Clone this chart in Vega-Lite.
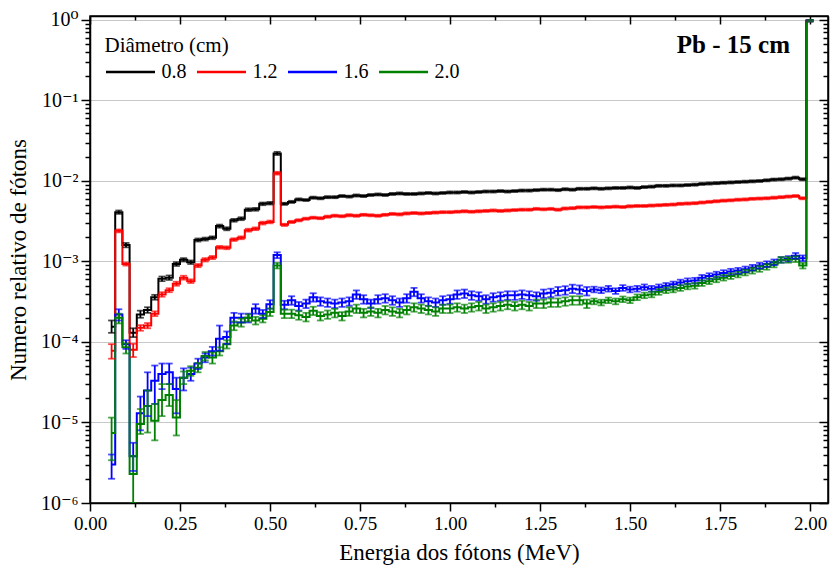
{
"$schema":"https://vega.github.io/schema/vega-lite/v6.json",
"width":738,"height":487,
"autosize":{"type":"none"},
"padding":{"left":90,"top":16,"right":4,"bottom":69},
"background":"white",
"config":{
"view":{"stroke":"black","strokeWidth":1.5},
"font":"Liberation Serif, Times New Roman, DejaVu Serif, serif",
"axis":{"domainColor":"black","domainWidth":1.5,"tickColor":"black","tickWidth":1.5,"labelColor":"black","titleColor":"black","labelFont":"Liberation Serif, Times New Roman, DejaVu Serif, serif","titleFont":"Liberation Serif, Times New Roman, DejaVu Serif, serif","titleFontWeight":"normal","gridColor":"#c8c8c8","gridWidth":1}
},
"title":{"text":"Pb - 15 cm","anchor":"end","frame":"group","orient":"top","offset":-36,"dx":-38,"dy":32,"baseline":"alphabetic","fontSize":25,"fontWeight":"bold","font":"Liberation Serif, Times New Roman, DejaVu Serif, serif","color":"black"},
"datasets":{"d":[
{"d":"0.8","e":0.06,"v":1.55e-4,"lo":1.3e-4,"hi":1.85e-4},
{"d":"0.8","e":0.08,"v":4.1e-3,"lo":3.9e-3,"hi":4.3e-3},
{"d":"0.8","e":0.10,"v":1.6e-3,"lo":1.5e-3,"hi":1.7e-3},
{"d":"0.8","e":0.12,"v":1.3e-4,"lo":1.15e-4,"hi":1.48e-4},
{"d":"0.8","e":0.14,"v":2.2e-4,"lo":2.0e-4,"hi":2.45e-4},
{"d":"0.8","e":0.16,"v":2.5e-4,"lo":2.3e-4,"hi":2.7e-4},
{"d":"0.8","e":0.18,"v":3.6e-4,"lo":3.35e-4,"hi":3.85e-4},
{"d":"0.8","e":0.20,"v":6.1e-4,"lo":5.7e-4,"hi":6.5e-4},
{"d":"0.8","e":0.22,"v":6.3e-4,"lo":5.9e-4,"hi":6.7e-4},
{"d":"0.8","e":0.24,"v":9.3e-4,"lo":8.8e-4,"hi":9.8e-4},
{"d":"0.8","e":0.26,"v":1.05e-3,"lo":1.0e-3,"hi":1.1e-3},
{"d":"0.8","e":0.28,"v":9.8e-4,"lo":9.3e-4,"hi":1.03e-3},
{"d":"0.8","e":0.30,"v":1.85e-3,"lo":1.77e-3,"hi":1.93e-3},
{"d":"0.8","e":0.32,"v":1.9e-3,"lo":1.82e-3,"hi":1.98e-3},
{"d":"0.8","e":0.34,"v":1.97e-3,"lo":1.89e-3,"hi":2.05e-3},
{"d":"0.8","e":0.36,"v":2.75e-3,"lo":2.63e-3,"hi":2.87e-3},
{"d":"0.8","e":0.38,"v":2.55e-3,"lo":2.44e-3,"hi":2.66e-3},
{"d":"0.8","e":0.40,"v":3.25e-3,"lo":3.12e-3,"hi":3.38e-3},
{"d":"0.8","e":0.42,"v":3.4e-3,"lo":3.26e-3,"hi":3.54e-3},
{"d":"0.8","e":0.44,"v":4.4e-3,"lo":4.22e-3,"hi":4.58e-3},
{"d":"0.8","e":0.46,"v":4.45e-3,"lo":4.27e-3,"hi":4.63e-3},
{"d":"0.8","e":0.48,"v":5.2e-3,"lo":5.0e-3,"hi":5.4e-3},
{"d":"0.8","e":0.50,"v":5.3e-3,"lo":5.1e-3,"hi":5.5e-3},
{"d":"0.8","e":0.52,"v":2.2e-2,"lo":2.1e-2,"hi":2.3e-2},
{"d":"0.8","e":0.54,"v":5.2e-3,"lo":5.04e-3,"hi":5.36e-3},
{"d":"0.8","e":0.56,"v":5.5e-3,"lo":5.33e-3,"hi":5.67e-3},
{"d":"0.8","e":0.58,"v":5.9e-3,"lo":5.72e-3,"hi":6.08e-3},
{"d":"0.8","e":0.60,"v":5.8e-3,"lo":5.63e-3,"hi":5.97e-3},
{"d":"0.8","e":0.62,"v":6.2e-3,"lo":6.01e-3,"hi":6.39e-3},
{"d":"0.8","e":0.64,"v":6.1e-3,"lo":5.92e-3,"hi":6.28e-3},
{"d":"0.8","e":0.66,"v":6.3e-3,"lo":6.11e-3,"hi":6.49e-3},
{"d":"0.8","e":0.68,"v":6.3e-3,"lo":6.11e-3,"hi":6.49e-3},
{"d":"0.8","e":0.70,"v":6.5e-3,"lo":6.31e-3,"hi":6.7e-3},
{"d":"0.8","e":0.72,"v":6.4e-3,"lo":6.21e-3,"hi":6.59e-3},
{"d":"0.8","e":0.74,"v":6.6e-3,"lo":6.4e-3,"hi":6.8e-3},
{"d":"0.8","e":0.76,"v":6.5e-3,"lo":6.31e-3,"hi":6.7e-3},
{"d":"0.8","e":0.78,"v":6.7e-3,"lo":6.5e-3,"hi":6.9e-3},
{"d":"0.8","e":0.80,"v":6.8e-3,"lo":6.6e-3,"hi":7.0e-3},
{"d":"0.8","e":0.82,"v":6.7e-3,"lo":6.5e-3,"hi":6.9e-3},
{"d":"0.8","e":0.84,"v":6.9e-3,"lo":6.69e-3,"hi":7.11e-3},
{"d":"0.8","e":0.86,"v":7.0e-3,"lo":6.79e-3,"hi":7.21e-3},
{"d":"0.8","e":0.88,"v":6.9e-3,"lo":6.69e-3,"hi":7.11e-3},
{"d":"0.8","e":0.90,"v":6.9e-3,"lo":6.69e-3,"hi":7.11e-3},
{"d":"0.8","e":0.92,"v":7.0e-3,"lo":6.79e-3,"hi":7.21e-3},
{"d":"0.8","e":0.94,"v":7.1e-3,"lo":6.89e-3,"hi":7.31e-3},
{"d":"0.8","e":0.96,"v":7.0e-3,"lo":6.79e-3,"hi":7.21e-3},
{"d":"0.8","e":0.98,"v":7.1e-3,"lo":6.89e-3,"hi":7.31e-3},
{"d":"0.8","e":1.00,"v":7.2e-3,"lo":6.98e-3,"hi":7.42e-3},
{"d":"0.8","e":1.02,"v":7.2e-3,"lo":6.98e-3,"hi":7.42e-3},
{"d":"0.8","e":1.04,"v":7.3e-3,"lo":7.08e-3,"hi":7.52e-3},
{"d":"0.8","e":1.06,"v":7.2e-3,"lo":6.98e-3,"hi":7.42e-3},
{"d":"0.8","e":1.08,"v":7.3e-3,"lo":7.08e-3,"hi":7.52e-3},
{"d":"0.8","e":1.10,"v":7.4e-3,"lo":7.18e-3,"hi":7.62e-3},
{"d":"0.8","e":1.12,"v":7.4e-3,"lo":7.18e-3,"hi":7.62e-3},
{"d":"0.8","e":1.14,"v":7.5e-3,"lo":7.28e-3,"hi":7.72e-3},
{"d":"0.8","e":1.16,"v":7.4e-3,"lo":7.18e-3,"hi":7.62e-3},
{"d":"0.8","e":1.18,"v":7.5e-3,"lo":7.28e-3,"hi":7.72e-3},
{"d":"0.8","e":1.20,"v":7.6e-3,"lo":7.37e-3,"hi":7.83e-3},
{"d":"0.8","e":1.22,"v":7.6e-3,"lo":7.37e-3,"hi":7.83e-3},
{"d":"0.8","e":1.24,"v":7.7e-3,"lo":7.47e-3,"hi":7.93e-3},
{"d":"0.8","e":1.26,"v":7.8e-3,"lo":7.57e-3,"hi":8.03e-3},
{"d":"0.8","e":1.28,"v":7.8e-3,"lo":7.57e-3,"hi":8.03e-3},
{"d":"0.8","e":1.30,"v":7.7e-3,"lo":7.47e-3,"hi":7.93e-3},
{"d":"0.8","e":1.32,"v":7.9e-3,"lo":7.66e-3,"hi":8.14e-3},
{"d":"0.8","e":1.34,"v":7.8e-3,"lo":7.57e-3,"hi":8.03e-3},
{"d":"0.8","e":1.36,"v":8.0e-3,"lo":7.76e-3,"hi":8.24e-3},
{"d":"0.8","e":1.38,"v":8.0e-3,"lo":7.76e-3,"hi":8.24e-3},
{"d":"0.8","e":1.40,"v":8.1e-3,"lo":7.86e-3,"hi":8.34e-3},
{"d":"0.8","e":1.42,"v":8.0e-3,"lo":7.76e-3,"hi":8.24e-3},
{"d":"0.8","e":1.44,"v":8.1e-3,"lo":7.86e-3,"hi":8.34e-3},
{"d":"0.8","e":1.46,"v":8.2e-3,"lo":7.95e-3,"hi":8.45e-3},
{"d":"0.8","e":1.48,"v":8.2e-3,"lo":7.95e-3,"hi":8.45e-3},
{"d":"0.8","e":1.50,"v":8.3e-3,"lo":8.05e-3,"hi":8.55e-3},
{"d":"0.8","e":1.52,"v":8.2e-3,"lo":7.95e-3,"hi":8.45e-3},
{"d":"0.8","e":1.54,"v":8.4e-3,"lo":8.15e-3,"hi":8.65e-3},
{"d":"0.8","e":1.56,"v":8.5e-3,"lo":8.25e-3,"hi":8.76e-3},
{"d":"0.8","e":1.58,"v":8.7e-3,"lo":8.44e-3,"hi":8.96e-3},
{"d":"0.8","e":1.60,"v":8.7e-3,"lo":8.44e-3,"hi":8.96e-3},
{"d":"0.8","e":1.62,"v":8.8e-3,"lo":8.54e-3,"hi":9.06e-3},
{"d":"0.8","e":1.64,"v":8.8e-3,"lo":8.54e-3,"hi":9.06e-3},
{"d":"0.8","e":1.66,"v":8.9e-3,"lo":8.63e-3,"hi":9.17e-3},
{"d":"0.8","e":1.68,"v":9.0e-3,"lo":8.73e-3,"hi":9.27e-3},
{"d":"0.8","e":1.70,"v":9.2e-3,"lo":8.92e-3,"hi":9.48e-3},
{"d":"0.8","e":1.72,"v":9.3e-3,"lo":9.02e-3,"hi":9.58e-3},
{"d":"0.8","e":1.74,"v":9.4e-3,"lo":9.12e-3,"hi":9.68e-3},
{"d":"0.8","e":1.76,"v":9.5e-3,"lo":9.22e-3,"hi":9.79e-3},
{"d":"0.8","e":1.78,"v":9.6e-3,"lo":9.31e-3,"hi":9.89e-3},
{"d":"0.8","e":1.80,"v":9.7e-3,"lo":9.41e-3,"hi":9.99e-3},
{"d":"0.8","e":1.82,"v":9.8e-3,"lo":9.51e-3,"hi":1.009e-2},
{"d":"0.8","e":1.84,"v":9.9e-3,"lo":9.6e-3,"hi":1.02e-2},
{"d":"0.8","e":1.86,"v":1.0e-2,"lo":9.7e-3,"hi":1.03e-2},
{"d":"0.8","e":1.88,"v":1.02e-2,"lo":9.89e-3,"hi":1.05e-2},
{"d":"0.8","e":1.90,"v":1.04e-2,"lo":1.009e-2,"hi":1.071e-2},
{"d":"0.8","e":1.92,"v":1.05e-2,"lo":1.019e-2,"hi":1.082e-2},
{"d":"0.8","e":1.94,"v":1.07e-2,"lo":1.038e-2,"hi":1.102e-2},
{"d":"0.8","e":1.96,"v":1.1e-2,"lo":1.067e-2,"hi":1.133e-2},
{"d":"0.8","e":1.98,"v":1.05e-2,"lo":1.019e-2,"hi":1.082e-2},
{"d":"0.8","e":2.00,"v":0.98,"lo":0.96,"hi":1.0},
{"d":"1.2","e":0.06,"v":7.8e-5,"lo":6.2e-5,"hi":9.4e-5},
{"d":"1.2","e":0.08,"v":2.4e-3,"lo":2.3e-3,"hi":2.5e-3},
{"d":"1.2","e":0.10,"v":9.3e-4,"lo":8.9e-4,"hi":9.7e-4},
{"d":"1.2","e":0.12,"v":8.0e-5,"lo":6.5e-5,"hi":9.5e-5},
{"d":"1.2","e":0.14,"v":1.5e-4,"lo":1.38e-4,"hi":1.62e-4},
{"d":"1.2","e":0.16,"v":1.6e-4,"lo":1.48e-4,"hi":1.72e-4},
{"d":"1.2","e":0.18,"v":2.25e-4,"lo":2.1e-4,"hi":2.4e-4},
{"d":"1.2","e":0.20,"v":3.9e-4,"lo":3.65e-4,"hi":4.15e-4},
{"d":"1.2","e":0.22,"v":4.4e-4,"lo":4.15e-4,"hi":4.65e-4},
{"d":"1.2","e":0.24,"v":5.3e-4,"lo":5.0e-4,"hi":5.6e-4},
{"d":"1.2","e":0.26,"v":6.3e-4,"lo":5.95e-4,"hi":6.65e-4},
{"d":"1.2","e":0.28,"v":5.7e-4,"lo":5.4e-4,"hi":6.0e-4},
{"d":"1.2","e":0.30,"v":8.9e-4,"lo":8.5e-4,"hi":9.3e-4},
{"d":"1.2","e":0.32,"v":1.05e-3,"lo":1.0e-3,"hi":1.1e-3},
{"d":"1.2","e":0.34,"v":1.12e-3,"lo":1.07e-3,"hi":1.17e-3},
{"d":"1.2","e":0.36,"v":1.5e-3,"lo":1.44e-3,"hi":1.56e-3},
{"d":"1.2","e":0.38,"v":1.48e-3,"lo":1.42e-3,"hi":1.54e-3},
{"d":"1.2","e":0.40,"v":1.87e-3,"lo":1.8e-3,"hi":1.94e-3},
{"d":"1.2","e":0.42,"v":1.97e-3,"lo":1.89e-3,"hi":2.05e-3},
{"d":"1.2","e":0.44,"v":2.45e-3,"lo":2.35e-3,"hi":2.55e-3},
{"d":"1.2","e":0.46,"v":2.55e-3,"lo":2.45e-3,"hi":2.65e-3},
{"d":"1.2","e":0.48,"v":3.0e-3,"lo":2.88e-3,"hi":3.12e-3},
{"d":"1.2","e":0.50,"v":3.1e-3,"lo":2.98e-3,"hi":3.22e-3},
{"d":"1.2","e":0.52,"v":1.25e-2,"lo":1.2e-2,"hi":1.3e-2},
{"d":"1.2","e":0.54,"v":2.85e-3,"lo":2.76e-3,"hi":2.94e-3},
{"d":"1.2","e":0.56,"v":3.1e-3,"lo":3.0e-3,"hi":3.2e-3},
{"d":"1.2","e":0.58,"v":3.25e-3,"lo":3.15e-3,"hi":3.35e-3},
{"d":"1.2","e":0.60,"v":3.4e-3,"lo":3.3e-3,"hi":3.5e-3},
{"d":"1.2","e":0.62,"v":3.5e-3,"lo":3.4e-3,"hi":3.6e-3},
{"d":"1.2","e":0.64,"v":3.45e-3,"lo":3.35e-3,"hi":3.55e-3},
{"d":"1.2","e":0.66,"v":3.6e-3,"lo":3.49e-3,"hi":3.71e-3},
{"d":"1.2","e":0.68,"v":3.7e-3,"lo":3.59e-3,"hi":3.81e-3},
{"d":"1.2","e":0.70,"v":3.65e-3,"lo":3.54e-3,"hi":3.76e-3},
{"d":"1.2","e":0.72,"v":3.75e-3,"lo":3.64e-3,"hi":3.86e-3},
{"d":"1.2","e":0.74,"v":3.7e-3,"lo":3.59e-3,"hi":3.81e-3},
{"d":"1.2","e":0.76,"v":3.8e-3,"lo":3.69e-3,"hi":3.91e-3},
{"d":"1.2","e":0.78,"v":3.75e-3,"lo":3.64e-3,"hi":3.86e-3},
{"d":"1.2","e":0.80,"v":3.7e-3,"lo":3.59e-3,"hi":3.81e-3},
{"d":"1.2","e":0.82,"v":3.8e-3,"lo":3.69e-3,"hi":3.91e-3},
{"d":"1.2","e":0.84,"v":3.9e-3,"lo":3.78e-3,"hi":4.02e-3},
{"d":"1.2","e":0.86,"v":3.85e-3,"lo":3.73e-3,"hi":3.97e-3},
{"d":"1.2","e":0.88,"v":3.95e-3,"lo":3.83e-3,"hi":4.07e-3},
{"d":"1.2","e":0.90,"v":4.0e-3,"lo":3.88e-3,"hi":4.12e-3},
{"d":"1.2","e":0.92,"v":3.95e-3,"lo":3.83e-3,"hi":4.07e-3},
{"d":"1.2","e":0.94,"v":4.0e-3,"lo":3.88e-3,"hi":4.12e-3},
{"d":"1.2","e":0.96,"v":4.05e-3,"lo":3.93e-3,"hi":4.17e-3},
{"d":"1.2","e":0.98,"v":4.1e-3,"lo":3.98e-3,"hi":4.22e-3},
{"d":"1.2","e":1.00,"v":4.1e-3,"lo":3.98e-3,"hi":4.22e-3},
{"d":"1.2","e":1.02,"v":4.15e-3,"lo":4.03e-3,"hi":4.27e-3},
{"d":"1.2","e":1.04,"v":4.2e-3,"lo":4.07e-3,"hi":4.33e-3},
{"d":"1.2","e":1.06,"v":4.15e-3,"lo":4.03e-3,"hi":4.27e-3},
{"d":"1.2","e":1.08,"v":4.2e-3,"lo":4.07e-3,"hi":4.33e-3},
{"d":"1.2","e":1.10,"v":4.25e-3,"lo":4.12e-3,"hi":4.38e-3},
{"d":"1.2","e":1.12,"v":4.3e-3,"lo":4.17e-3,"hi":4.43e-3},
{"d":"1.2","e":1.14,"v":4.25e-3,"lo":4.12e-3,"hi":4.38e-3},
{"d":"1.2","e":1.16,"v":4.3e-3,"lo":4.17e-3,"hi":4.43e-3},
{"d":"1.2","e":1.18,"v":4.35e-3,"lo":4.22e-3,"hi":4.48e-3},
{"d":"1.2","e":1.20,"v":4.4e-3,"lo":4.27e-3,"hi":4.53e-3},
{"d":"1.2","e":1.22,"v":4.4e-3,"lo":4.27e-3,"hi":4.53e-3},
{"d":"1.2","e":1.24,"v":4.5e-3,"lo":4.37e-3,"hi":4.64e-3},
{"d":"1.2","e":1.26,"v":4.45e-3,"lo":4.32e-3,"hi":4.58e-3},
{"d":"1.2","e":1.28,"v":4.5e-3,"lo":4.37e-3,"hi":4.64e-3},
{"d":"1.2","e":1.30,"v":4.4e-3,"lo":4.27e-3,"hi":4.53e-3},
{"d":"1.2","e":1.32,"v":4.55e-3,"lo":4.41e-3,"hi":4.69e-3},
{"d":"1.2","e":1.34,"v":4.6e-3,"lo":4.46e-3,"hi":4.74e-3},
{"d":"1.2","e":1.36,"v":4.7e-3,"lo":4.56e-3,"hi":4.84e-3},
{"d":"1.2","e":1.38,"v":4.7e-3,"lo":4.56e-3,"hi":4.84e-3},
{"d":"1.2","e":1.40,"v":4.75e-3,"lo":4.61e-3,"hi":4.89e-3},
{"d":"1.2","e":1.42,"v":4.7e-3,"lo":4.56e-3,"hi":4.84e-3},
{"d":"1.2","e":1.44,"v":4.75e-3,"lo":4.61e-3,"hi":4.89e-3},
{"d":"1.2","e":1.46,"v":4.8e-3,"lo":4.66e-3,"hi":4.94e-3},
{"d":"1.2","e":1.48,"v":4.75e-3,"lo":4.61e-3,"hi":4.89e-3},
{"d":"1.2","e":1.50,"v":4.85e-3,"lo":4.7e-3,"hi":5.0e-3},
{"d":"1.2","e":1.52,"v":4.9e-3,"lo":4.75e-3,"hi":5.05e-3},
{"d":"1.2","e":1.54,"v":4.9e-3,"lo":4.75e-3,"hi":5.05e-3},
{"d":"1.2","e":1.56,"v":4.95e-3,"lo":4.8e-3,"hi":5.1e-3},
{"d":"1.2","e":1.58,"v":5.0e-3,"lo":4.85e-3,"hi":5.15e-3},
{"d":"1.2","e":1.60,"v":5.05e-3,"lo":4.9e-3,"hi":5.2e-3},
{"d":"1.2","e":1.62,"v":5.1e-3,"lo":4.95e-3,"hi":5.25e-3},
{"d":"1.2","e":1.64,"v":5.2e-3,"lo":5.04e-3,"hi":5.36e-3},
{"d":"1.2","e":1.66,"v":5.25e-3,"lo":5.09e-3,"hi":5.41e-3},
{"d":"1.2","e":1.68,"v":5.3e-3,"lo":5.14e-3,"hi":5.46e-3},
{"d":"1.2","e":1.70,"v":5.4e-3,"lo":5.24e-3,"hi":5.56e-3},
{"d":"1.2","e":1.72,"v":5.5e-3,"lo":5.34e-3,"hi":5.67e-3},
{"d":"1.2","e":1.74,"v":5.6e-3,"lo":5.43e-3,"hi":5.77e-3},
{"d":"1.2","e":1.76,"v":5.7e-3,"lo":5.53e-3,"hi":5.87e-3},
{"d":"1.2","e":1.78,"v":5.75e-3,"lo":5.58e-3,"hi":5.92e-3},
{"d":"1.2","e":1.80,"v":5.85e-3,"lo":5.67e-3,"hi":6.03e-3},
{"d":"1.2","e":1.82,"v":5.9e-3,"lo":5.72e-3,"hi":6.08e-3},
{"d":"1.2","e":1.84,"v":6.0e-3,"lo":5.82e-3,"hi":6.18e-3},
{"d":"1.2","e":1.86,"v":6.05e-3,"lo":5.87e-3,"hi":6.23e-3},
{"d":"1.2","e":1.88,"v":6.1e-3,"lo":5.92e-3,"hi":6.28e-3},
{"d":"1.2","e":1.90,"v":6.2e-3,"lo":6.01e-3,"hi":6.39e-3},
{"d":"1.2","e":1.92,"v":6.3e-3,"lo":6.11e-3,"hi":6.49e-3},
{"d":"1.2","e":1.94,"v":6.4e-3,"lo":6.21e-3,"hi":6.59e-3},
{"d":"1.2","e":1.96,"v":6.5e-3,"lo":6.31e-3,"hi":6.7e-3},
{"d":"1.2","e":1.98,"v":6.1e-3,"lo":5.92e-3,"hi":6.28e-3},
{"d":"1.2","e":2.00,"v":0.98,"lo":0.96,"hi":1.0},
{"d":"1.6","e":0.06,"v":3.0e-6,"lo":2.0e-6,"hi":4.0e-6},
{"d":"1.6","e":0.08,"v":2.2e-4,"lo":1.85e-4,"hi":2.55e-4},
{"d":"1.6","e":0.10,"v":9.4e-5,"lo":8.2e-5,"hi":1.05e-4},
{"d":"1.6","e":0.12,"v":3.8e-6,"lo":2.5e-6,"hi":5.6e-6},
{"d":"1.6","e":0.14,"v":1.3e-5,"lo":8.0e-6,"hi":2.1e-5},
{"d":"1.6","e":0.16,"v":2.5e-5,"lo":1.2e-5,"hi":4.2e-5},
{"d":"1.6","e":0.18,"v":3.3e-5,"lo":1.7e-5,"hi":5.1e-5},
{"d":"1.6","e":0.20,"v":4.0e-5,"lo":2.6e-5,"hi":5.4e-5},
{"d":"1.6","e":0.22,"v":4.2e-5,"lo":3.0e-5,"hi":5.4e-5},
{"d":"1.6","e":0.24,"v":2.6e-5,"lo":1.3e-5,"hi":3.6e-5},
{"d":"1.6","e":0.26,"v":3.6e-5,"lo":2.5e-5,"hi":4.7e-5},
{"d":"1.6","e":0.28,"v":4.0e-5,"lo":3.3e-5,"hi":4.8e-5},
{"d":"1.6","e":0.30,"v":5.4e-5,"lo":4.6e-5,"hi":6.2e-5},
{"d":"1.6","e":0.32,"v":6.4e-5,"lo":5.6e-5,"hi":7.2e-5},
{"d":"1.6","e":0.34,"v":7.7e-5,"lo":6.8e-5,"hi":8.7e-5},
{"d":"1.6","e":0.36,"v":1.1e-4,"lo":7.8e-5,"hi":1.6e-4},
{"d":"1.6","e":0.38,"v":1.15e-4,"lo":9.5e-5,"hi":1.35e-4},
{"d":"1.6","e":0.40,"v":2.0e-4,"lo":1.75e-4,"hi":2.3e-4},
{"d":"1.6","e":0.42,"v":2.0e-4,"lo":1.75e-4,"hi":2.25e-4},
{"d":"1.6","e":0.44,"v":2.0e-4,"lo":1.75e-4,"hi":2.25e-4},
{"d":"1.6","e":0.46,"v":2.6e-4,"lo":2.25e-4,"hi":2.95e-4},
{"d":"1.6","e":0.48,"v":2.25e-4,"lo":2.0e-4,"hi":2.5e-4},
{"d":"1.6","e":0.50,"v":2.95e-4,"lo":2.6e-4,"hi":3.3e-4},
{"d":"1.6","e":0.52,"v":1.2e-3,"lo":1.1e-3,"hi":1.3e-3},
{"d":"1.6","e":0.54,"v":2.9e-4,"lo":2.55e-4,"hi":3.25e-4},
{"d":"1.6","e":0.56,"v":3.3e-4,"lo":2.9e-4,"hi":3.7e-4},
{"d":"1.6","e":0.58,"v":2.8e-4,"lo":2.46e-4,"hi":3.14e-4},
{"d":"1.6","e":0.60,"v":3.0e-4,"lo":2.64e-4,"hi":3.36e-4},
{"d":"1.6","e":0.62,"v":3.6e-4,"lo":3.17e-4,"hi":4.03e-4},
{"d":"1.6","e":0.64,"v":3.2e-4,"lo":2.82e-4,"hi":3.58e-4},
{"d":"1.6","e":0.66,"v":3.1e-4,"lo":2.73e-4,"hi":3.47e-4},
{"d":"1.6","e":0.68,"v":3.0e-4,"lo":2.64e-4,"hi":3.36e-4},
{"d":"1.6","e":0.70,"v":3.1e-4,"lo":2.73e-4,"hi":3.47e-4},
{"d":"1.6","e":0.72,"v":3.2e-4,"lo":2.82e-4,"hi":3.58e-4},
{"d":"1.6","e":0.74,"v":3.9e-4,"lo":3.43e-4,"hi":4.37e-4},
{"d":"1.6","e":0.76,"v":3.4e-4,"lo":2.99e-4,"hi":3.81e-4},
{"d":"1.6","e":0.78,"v":3.0e-4,"lo":2.64e-4,"hi":3.36e-4},
{"d":"1.6","e":0.80,"v":3.4e-4,"lo":2.99e-4,"hi":3.81e-4},
{"d":"1.6","e":0.82,"v":3.5e-4,"lo":3.08e-4,"hi":3.92e-4},
{"d":"1.6","e":0.84,"v":3.3e-4,"lo":2.9e-4,"hi":3.7e-4},
{"d":"1.6","e":0.86,"v":3.1e-4,"lo":2.73e-4,"hi":3.47e-4},
{"d":"1.6","e":0.88,"v":3.5e-4,"lo":3.08e-4,"hi":3.92e-4},
{"d":"1.6","e":0.90,"v":4.2e-4,"lo":3.7e-4,"hi":4.7e-4},
{"d":"1.6","e":0.92,"v":3.5e-4,"lo":3.08e-4,"hi":3.92e-4},
{"d":"1.6","e":0.94,"v":3.2e-4,"lo":2.82e-4,"hi":3.58e-4},
{"d":"1.6","e":0.96,"v":3.1e-4,"lo":2.73e-4,"hi":3.47e-4},
{"d":"1.6","e":0.98,"v":3.3e-4,"lo":2.9e-4,"hi":3.7e-4},
{"d":"1.6","e":1.00,"v":3.4e-4,"lo":2.99e-4,"hi":3.81e-4},
{"d":"1.6","e":1.02,"v":3.9e-4,"lo":3.43e-4,"hi":4.37e-4},
{"d":"1.6","e":1.04,"v":4.0e-4,"lo":3.52e-4,"hi":4.48e-4},
{"d":"1.6","e":1.06,"v":3.8e-4,"lo":3.34e-4,"hi":4.26e-4},
{"d":"1.6","e":1.08,"v":3.7e-4,"lo":3.26e-4,"hi":4.14e-4},
{"d":"1.6","e":1.10,"v":3.4e-4,"lo":2.99e-4,"hi":3.81e-4},
{"d":"1.6","e":1.12,"v":3.6e-4,"lo":3.17e-4,"hi":4.03e-4},
{"d":"1.6","e":1.14,"v":3.7e-4,"lo":3.26e-4,"hi":4.14e-4},
{"d":"1.6","e":1.16,"v":3.8e-4,"lo":3.34e-4,"hi":4.26e-4},
{"d":"1.6","e":1.18,"v":3.8e-4,"lo":3.34e-4,"hi":4.26e-4},
{"d":"1.6","e":1.20,"v":3.9e-4,"lo":3.43e-4,"hi":4.37e-4},
{"d":"1.6","e":1.22,"v":3.8e-4,"lo":3.34e-4,"hi":4.26e-4},
{"d":"1.6","e":1.24,"v":3.7e-4,"lo":3.26e-4,"hi":4.14e-4},
{"d":"1.6","e":1.26,"v":4.0e-4,"lo":3.52e-4,"hi":4.48e-4},
{"d":"1.6","e":1.28,"v":4.1e-4,"lo":3.61e-4,"hi":4.59e-4},
{"d":"1.6","e":1.30,"v":4.3e-4,"lo":3.78e-4,"hi":4.82e-4},
{"d":"1.6","e":1.32,"v":4.4e-4,"lo":3.87e-4,"hi":4.93e-4},
{"d":"1.6","e":1.34,"v":4.6e-4,"lo":4.05e-4,"hi":5.15e-4},
{"d":"1.6","e":1.36,"v":4.5e-4,"lo":3.96e-4,"hi":5.04e-4},
{"d":"1.6","e":1.38,"v":4.3e-4,"lo":3.78e-4,"hi":4.82e-4},
{"d":"1.6","e":1.40,"v":4.5e-4,"lo":4.14e-4,"hi":4.86e-4},
{"d":"1.6","e":1.42,"v":4.4e-4,"lo":4.05e-4,"hi":4.75e-4},
{"d":"1.6","e":1.44,"v":4.6e-4,"lo":4.23e-4,"hi":4.97e-4},
{"d":"1.6","e":1.46,"v":4.3e-4,"lo":3.96e-4,"hi":4.64e-4},
{"d":"1.6","e":1.48,"v":4.7e-4,"lo":4.32e-4,"hi":5.08e-4},
{"d":"1.6","e":1.50,"v":4.5e-4,"lo":4.14e-4,"hi":4.86e-4},
{"d":"1.6","e":1.52,"v":4.6e-4,"lo":4.23e-4,"hi":4.97e-4},
{"d":"1.6","e":1.54,"v":4.8e-4,"lo":4.42e-4,"hi":5.18e-4},
{"d":"1.6","e":1.56,"v":4.6e-4,"lo":4.23e-4,"hi":4.97e-4},
{"d":"1.6","e":1.58,"v":4.8e-4,"lo":4.42e-4,"hi":5.18e-4},
{"d":"1.6","e":1.60,"v":5.0e-4,"lo":4.6e-4,"hi":5.4e-4},
{"d":"1.6","e":1.62,"v":5.2e-4,"lo":4.78e-4,"hi":5.62e-4},
{"d":"1.6","e":1.64,"v":5.5e-4,"lo":5.06e-4,"hi":5.94e-4},
{"d":"1.6","e":1.66,"v":5.7e-4,"lo":5.24e-4,"hi":6.16e-4},
{"d":"1.6","e":1.68,"v":5.8e-4,"lo":5.34e-4,"hi":6.26e-4},
{"d":"1.6","e":1.70,"v":6.3e-4,"lo":5.8e-4,"hi":6.8e-4},
{"d":"1.6","e":1.72,"v":6.6e-4,"lo":6.07e-4,"hi":7.13e-4},
{"d":"1.6","e":1.74,"v":6.9e-4,"lo":6.35e-4,"hi":7.45e-4},
{"d":"1.6","e":1.76,"v":7.2e-4,"lo":6.62e-4,"hi":7.78e-4},
{"d":"1.6","e":1.78,"v":7.5e-4,"lo":6.9e-4,"hi":8.1e-4},
{"d":"1.6","e":1.80,"v":7.7e-4,"lo":7.08e-4,"hi":8.32e-4},
{"d":"1.6","e":1.82,"v":8.0e-4,"lo":7.36e-4,"hi":8.64e-4},
{"d":"1.6","e":1.84,"v":8.4e-4,"lo":7.73e-4,"hi":9.07e-4},
{"d":"1.6","e":1.86,"v":8.9e-4,"lo":8.19e-4,"hi":9.61e-4},
{"d":"1.6","e":1.88,"v":9.3e-4,"lo":8.56e-4,"hi":1.004e-3},
{"d":"1.6","e":1.90,"v":9.8e-4,"lo":9.02e-4,"hi":1.058e-3},
{"d":"1.6","e":1.92,"v":1.05e-3,"lo":9.66e-4,"hi":1.134e-3},
{"d":"1.6","e":1.94,"v":1.08e-3,"lo":9.94e-4,"hi":1.166e-3},
{"d":"1.6","e":1.96,"v":1.18e-3,"lo":1.086e-3,"hi":1.274e-3},
{"d":"1.6","e":1.98,"v":1.1e-3,"lo":1.012e-3,"hi":1.188e-3},
{"d":"1.6","e":2.00,"v":0.98,"lo":0.96,"hi":1.0},
{"d":"2.0","e":0.06,"v":7.4e-6,"lo":3.4e-6,"hi":1.15e-5},
{"d":"2.0","e":0.08,"v":2.0e-4,"lo":1.7e-4,"hi":2.25e-4},
{"d":"2.0","e":0.10,"v":8.6e-5,"lo":7.2e-5,"hi":9.6e-5},
{"d":"2.0","e":0.12,"v":2.3e-6,"lo":1.0e-6,"hi":3.85e-6},
{"d":"2.0","e":0.14,"v":9.6e-6,"lo":7.2e-6,"hi":1.47e-5},
{"d":"2.0","e":0.16,"v":1.6e-5,"lo":7.5e-6,"hi":2.5e-5},
{"d":"2.0","e":0.18,"v":1.05e-5,"lo":6.0e-6,"hi":1.7e-5},
{"d":"2.0","e":0.20,"v":1.9e-5,"lo":1.2e-5,"hi":3.0e-5},
{"d":"2.0","e":0.22,"v":2.2e-5,"lo":1.6e-5,"hi":3.0e-5},
{"d":"2.0","e":0.24,"v":1.15e-5,"lo":6.9e-6,"hi":1.9e-5},
{"d":"2.0","e":0.26,"v":3.6e-5,"lo":3.0e-5,"hi":4.3e-5},
{"d":"2.0","e":0.28,"v":4.4e-5,"lo":3.8e-5,"hi":5.0e-5},
{"d":"2.0","e":0.30,"v":4.8e-5,"lo":4.2e-5,"hi":5.5e-5},
{"d":"2.0","e":0.32,"v":6.7e-5,"lo":5.9e-5,"hi":7.5e-5},
{"d":"2.0","e":0.34,"v":6.4e-5,"lo":5.4e-5,"hi":7.4e-5},
{"d":"2.0","e":0.36,"v":7.7e-5,"lo":6.8e-5,"hi":8.6e-5},
{"d":"2.0","e":0.38,"v":9.4e-5,"lo":8.3e-5,"hi":1.05e-4},
{"d":"2.0","e":0.40,"v":1.6e-4,"lo":1.4e-4,"hi":1.8e-4},
{"d":"2.0","e":0.42,"v":1.75e-4,"lo":1.55e-4,"hi":1.95e-4},
{"d":"2.0","e":0.44,"v":2.0e-4,"lo":1.8e-4,"hi":2.2e-4},
{"d":"2.0","e":0.46,"v":1.85e-4,"lo":1.65e-4,"hi":2.05e-4},
{"d":"2.0","e":0.48,"v":1.95e-4,"lo":1.75e-4,"hi":2.15e-4},
{"d":"2.0","e":0.50,"v":2.35e-4,"lo":2.1e-4,"hi":2.6e-4},
{"d":"2.0","e":0.52,"v":8.9e-4,"lo":8.2e-4,"hi":9.6e-4},
{"d":"2.0","e":0.54,"v":2.25e-4,"lo":1.98e-4,"hi":2.52e-4},
{"d":"2.0","e":0.56,"v":2.25e-4,"lo":1.98e-4,"hi":2.52e-4},
{"d":"2.0","e":0.58,"v":2.15e-4,"lo":1.89e-4,"hi":2.41e-4},
{"d":"2.0","e":0.60,"v":2.05e-4,"lo":1.8e-4,"hi":2.3e-4},
{"d":"2.0","e":0.62,"v":2.45e-4,"lo":2.16e-4,"hi":2.74e-4},
{"d":"2.0","e":0.64,"v":2.1e-4,"lo":1.85e-4,"hi":2.35e-4},
{"d":"2.0","e":0.66,"v":2.2e-4,"lo":1.94e-4,"hi":2.46e-4},
{"d":"2.0","e":0.68,"v":2.3e-4,"lo":2.02e-4,"hi":2.58e-4},
{"d":"2.0","e":0.70,"v":2.1e-4,"lo":1.85e-4,"hi":2.35e-4},
{"d":"2.0","e":0.72,"v":2.4e-4,"lo":2.11e-4,"hi":2.69e-4},
{"d":"2.0","e":0.74,"v":2.6e-4,"lo":2.29e-4,"hi":2.91e-4},
{"d":"2.0","e":0.76,"v":2.3e-4,"lo":2.02e-4,"hi":2.58e-4},
{"d":"2.0","e":0.78,"v":2.4e-4,"lo":2.11e-4,"hi":2.69e-4},
{"d":"2.0","e":0.80,"v":2.3e-4,"lo":2.02e-4,"hi":2.58e-4},
{"d":"2.0","e":0.82,"v":2.5e-4,"lo":2.2e-4,"hi":2.8e-4},
{"d":"2.0","e":0.84,"v":2.4e-4,"lo":2.11e-4,"hi":2.69e-4},
{"d":"2.0","e":0.86,"v":2.3e-4,"lo":2.02e-4,"hi":2.58e-4},
{"d":"2.0","e":0.88,"v":2.5e-4,"lo":2.2e-4,"hi":2.8e-4},
{"d":"2.0","e":0.90,"v":2.7e-4,"lo":2.38e-4,"hi":3.02e-4},
{"d":"2.0","e":0.92,"v":2.6e-4,"lo":2.29e-4,"hi":2.91e-4},
{"d":"2.0","e":0.94,"v":2.5e-4,"lo":2.2e-4,"hi":2.8e-4},
{"d":"2.0","e":0.96,"v":2.4e-4,"lo":2.11e-4,"hi":2.69e-4},
{"d":"2.0","e":0.98,"v":2.6e-4,"lo":2.29e-4,"hi":2.91e-4},
{"d":"2.0","e":1.00,"v":2.6e-4,"lo":2.29e-4,"hi":2.91e-4},
{"d":"2.0","e":1.02,"v":2.7e-4,"lo":2.38e-4,"hi":3.02e-4},
{"d":"2.0","e":1.04,"v":2.6e-4,"lo":2.29e-4,"hi":2.91e-4},
{"d":"2.0","e":1.06,"v":2.7e-4,"lo":2.38e-4,"hi":3.02e-4},
{"d":"2.0","e":1.08,"v":2.8e-4,"lo":2.46e-4,"hi":3.14e-4},
{"d":"2.0","e":1.10,"v":2.6e-4,"lo":2.29e-4,"hi":2.91e-4},
{"d":"2.0","e":1.12,"v":2.7e-4,"lo":2.38e-4,"hi":3.02e-4},
{"d":"2.0","e":1.14,"v":2.8e-4,"lo":2.46e-4,"hi":3.14e-4},
{"d":"2.0","e":1.16,"v":2.9e-4,"lo":2.55e-4,"hi":3.25e-4},
{"d":"2.0","e":1.18,"v":2.8e-4,"lo":2.46e-4,"hi":3.14e-4},
{"d":"2.0","e":1.20,"v":2.9e-4,"lo":2.55e-4,"hi":3.25e-4},
{"d":"2.0","e":1.22,"v":2.8e-4,"lo":2.46e-4,"hi":3.14e-4},
{"d":"2.0","e":1.24,"v":3.0e-4,"lo":2.64e-4,"hi":3.36e-4},
{"d":"2.0","e":1.26,"v":3.0e-4,"lo":2.64e-4,"hi":3.36e-4},
{"d":"2.0","e":1.28,"v":3.1e-4,"lo":2.73e-4,"hi":3.47e-4},
{"d":"2.0","e":1.30,"v":3.1e-4,"lo":2.73e-4,"hi":3.47e-4},
{"d":"2.0","e":1.32,"v":3.2e-4,"lo":2.82e-4,"hi":3.58e-4},
{"d":"2.0","e":1.34,"v":3.3e-4,"lo":2.9e-4,"hi":3.7e-4},
{"d":"2.0","e":1.36,"v":3.3e-4,"lo":2.9e-4,"hi":3.7e-4},
{"d":"2.0","e":1.38,"v":3.0e-4,"lo":2.64e-4,"hi":3.36e-4},
{"d":"2.0","e":1.40,"v":3.2e-4,"lo":2.94e-4,"hi":3.46e-4},
{"d":"2.0","e":1.42,"v":3.1e-4,"lo":2.85e-4,"hi":3.35e-4},
{"d":"2.0","e":1.44,"v":3.3e-4,"lo":3.04e-4,"hi":3.56e-4},
{"d":"2.0","e":1.46,"v":3.2e-4,"lo":2.94e-4,"hi":3.46e-4},
{"d":"2.0","e":1.48,"v":3.4e-4,"lo":3.13e-4,"hi":3.67e-4},
{"d":"2.0","e":1.50,"v":3.3e-4,"lo":3.04e-4,"hi":3.56e-4},
{"d":"2.0","e":1.52,"v":3.6e-4,"lo":3.31e-4,"hi":3.89e-4},
{"d":"2.0","e":1.54,"v":3.8e-4,"lo":3.5e-4,"hi":4.1e-4},
{"d":"2.0","e":1.56,"v":3.9e-4,"lo":3.59e-4,"hi":4.21e-4},
{"d":"2.0","e":1.58,"v":4.2e-4,"lo":3.86e-4,"hi":4.54e-4},
{"d":"2.0","e":1.60,"v":4.4e-4,"lo":4.05e-4,"hi":4.75e-4},
{"d":"2.0","e":1.62,"v":4.5e-4,"lo":4.14e-4,"hi":4.86e-4},
{"d":"2.0","e":1.64,"v":4.7e-4,"lo":4.32e-4,"hi":5.08e-4},
{"d":"2.0","e":1.66,"v":4.9e-4,"lo":4.51e-4,"hi":5.29e-4},
{"d":"2.0","e":1.68,"v":5.0e-4,"lo":4.6e-4,"hi":5.4e-4},
{"d":"2.0","e":1.70,"v":5.4e-4,"lo":4.97e-4,"hi":5.83e-4},
{"d":"2.0","e":1.72,"v":5.7e-4,"lo":5.24e-4,"hi":6.16e-4},
{"d":"2.0","e":1.74,"v":6.0e-4,"lo":5.52e-4,"hi":6.48e-4},
{"d":"2.0","e":1.76,"v":6.3e-4,"lo":5.8e-4,"hi":6.8e-4},
{"d":"2.0","e":1.78,"v":6.6e-4,"lo":6.07e-4,"hi":7.13e-4},
{"d":"2.0","e":1.80,"v":6.9e-4,"lo":6.35e-4,"hi":7.45e-4},
{"d":"2.0","e":1.82,"v":7.3e-4,"lo":6.72e-4,"hi":7.88e-4},
{"d":"2.0","e":1.84,"v":7.7e-4,"lo":7.08e-4,"hi":8.32e-4},
{"d":"2.0","e":1.86,"v":8.1e-4,"lo":7.45e-4,"hi":8.75e-4},
{"d":"2.0","e":1.88,"v":8.6e-4,"lo":7.91e-4,"hi":9.29e-4},
{"d":"2.0","e":1.90,"v":9.2e-4,"lo":8.46e-4,"hi":9.94e-4},
{"d":"2.0","e":1.92,"v":1.05e-3,"lo":9.66e-4,"hi":1.134e-3},
{"d":"2.0","e":1.94,"v":1.05e-3,"lo":9.66e-4,"hi":1.134e-3},
{"d":"2.0","e":1.96,"v":1.07e-3,"lo":9.84e-4,"hi":1.156e-3},
{"d":"2.0","e":1.98,"v":8.9e-4,"lo":8.19e-4,"hi":9.61e-4},
{"d":"2.0","e":2.00,"v":0.98,"lo":0.96,"hi":1.0}
]},
"data":{"name":"d"},
"layer":[
{"mark":{"type":"line","interpolate":"step","strokeWidth":2,"clip":true},
 "encoding":{
  "x":{"field":"e","type":"quantitative","scale":{"domain":[0,2.05],"nice":false,"zero":false},
   "axis":{"orient":"bottom","values":[0,0.125,0.25,0.375,0.5,0.625,0.75,0.875,1,1.125,1.25,1.375,1.5,1.625,1.75,1.875,2],
    "labelExpr":"abs(datum.value*4-round(datum.value*4))<0.001 ? format(datum.value,'.2f') : ''",
    "tickSize":{"condition":{"test":"abs(datum.value*4-round(datum.value*4))<0.001","value":8},"value":4},
    "grid":false,"labelFontSize":19,"labelPadding":3,"labelFlush":false,"labelOverlap":false,
    "title":"Energia dos fótons (MeV)","titleFontSize":23,"titlePadding":8}},
  "y":{"field":"v","type":"quantitative","scale":{"type":"log","domain":[1e-6,1.12],"nice":false},
   "axis":{"orient":"left","values":[1e-6,2e-6,3e-6,4e-6,5e-6,6e-6,7e-6,8e-6,9e-6,1e-5,2e-5,3e-5,4e-5,5e-5,6e-5,7e-5,8e-5,9e-5,1e-4,2e-4,3e-4,4e-4,5e-4,6e-4,7e-4,8e-4,9e-4,0.001,0.002,0.003,0.004,0.005,0.006,0.007,0.008,0.009,0.01,0.02,0.03,0.04,0.05,0.06,0.07,0.08,0.09,0.1,0.2,0.3,0.4,0.5,0.6,0.7,0.8,0.9,1],
    "labelExpr":"datum.value===1?'10⁰':datum.value===0.1?'10⁻¹':datum.value===0.01?'10⁻²':datum.value===0.001?'10⁻³':datum.value===0.0001?'10⁻⁴':datum.value===0.00001?'10⁻⁵':datum.value===0.000001?'10⁻⁶':''",
    "tickSize":{"condition":{"test":"indexof([1,0.1,0.01,0.001,0.0001,0.00001,0.000001],datum.value)>=0","value":9},"value":5},
    "grid":true,
    "gridOpacity":{"condition":{"test":"indexof([1,0.1,0.01,0.001,0.0001,0.00001,0.000001],datum.value)>=0","value":1},"value":0},
    "labelFontSize":20,"labelPadding":3,"labelOverlap":false,"labelFlush":false,
    "title":"Numero relativo de fótons","titleFontSize":23,"titlePadding":10}},
  "color":{"field":"d","type":"nominal","scale":{"domain":["0.8","1.2","1.6","2.0"],"range":["#000000","#ff0000","#0000ff","#008000"]},
   "legend":{"orient":"none","legendX":14.5,"legendY":19,"direction":"horizontal","columns":4,"title":"Diâmetro (cm)","titleFontSize":21,"titleFont":"Liberation Serif, Times New Roman, DejaVu Serif, serif","titleFontWeight":"normal","titleColor":"black","titlePadding":-10,"labelFontSize":20,"labelFont":"Liberation Serif, Times New Roman, DejaVu Serif, serif","labelColor":"black","symbolType":"stroke","symbolSize":2401,"symbolStrokeWidth":2.5,"labelOffset":5,"columnPadding":5,"padding":0}}
 }},
{"mark":{"type":"rule","strokeWidth":1.8,"clip":true},
 "encoding":{
  "x":{"field":"e","type":"quantitative","axis":null},
  "y":{"field":"lo","type":"quantitative","axis":null},
  "y2":{"field":"hi"},
  "color":{"field":"d","type":"nominal","legend":null}}},
{"mark":{"type":"tick","orient":"horizontal","size":7,"thickness":1.8,"clip":true},
 "encoding":{
  "x":{"field":"e","type":"quantitative","axis":null},
  "y":{"field":"lo","type":"quantitative","axis":null},
  "color":{"field":"d","type":"nominal","legend":null}}},
{"mark":{"type":"tick","orient":"horizontal","size":7,"thickness":1.8,"clip":true},
 "encoding":{
  "x":{"field":"e","type":"quantitative","axis":null},
  "y":{"field":"hi","type":"quantitative","axis":null},
  "color":{"field":"d","type":"nominal","legend":null}}},
{"mark":{"type":"point","opacity":0},
 "encoding":{
  "x":{"field":"e","type":"quantitative",
   "axis":{"orient":"top","values":[0,0.125,0.25,0.375,0.5,0.625,0.75,0.875,1,1.125,1.25,1.375,1.5,1.625,1.75,1.875,2],"labels":false,"title":null,"grid":false,
    "tickSize":{"condition":{"test":"abs(datum.value*4-round(datum.value*4))<0.001","value":-8},"value":-4}}},
  "y":{"field":"v","type":"quantitative",
   "axis":{"orient":"right","values":[1e-6,2e-6,3e-6,4e-6,5e-6,6e-6,7e-6,8e-6,9e-6,1e-5,2e-5,3e-5,4e-5,5e-5,6e-5,7e-5,8e-5,9e-5,1e-4,2e-4,3e-4,4e-4,5e-4,6e-4,7e-4,8e-4,9e-4,0.001,0.002,0.003,0.004,0.005,0.006,0.007,0.008,0.009,0.01,0.02,0.03,0.04,0.05,0.06,0.07,0.08,0.09,0.1,0.2,0.3,0.4,0.5,0.6,0.7,0.8,0.9,1],"labels":false,"title":null,"grid":false,
    "tickSize":{"condition":{"test":"indexof([1,0.1,0.01,0.001,0.0001,0.00001,0.000001],datum.value)>=0","value":-9},"value":-5}}}}}
],
"resolve":{"axis":{"x":"independent","y":"independent"}}
}
